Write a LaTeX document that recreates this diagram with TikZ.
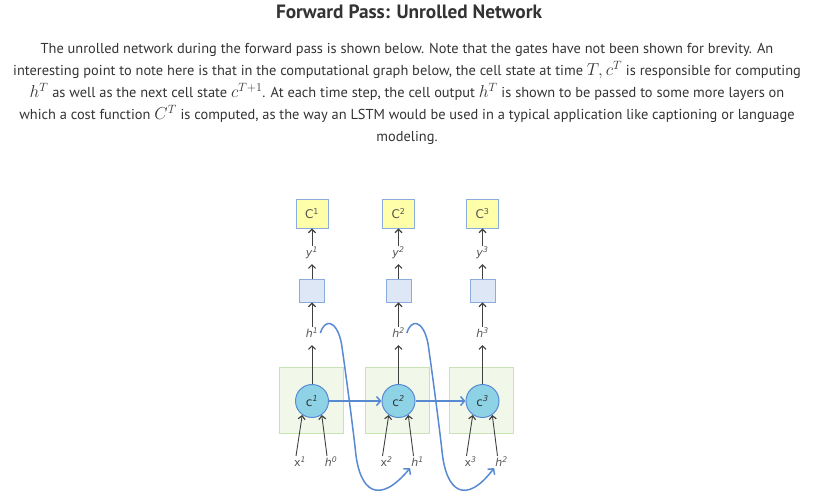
\documentclass[tikz,border=0pt]{standalone}
\usepackage{fontspec}
\setmainfont{PT Sans}
\newfontfamily\diafont{DejaVu Sans}
\usepackage{amsmath}
\usetikzlibrary{positioning,arrows.meta}
\definecolor{costyellow}{RGB}{255,255,170}
\definecolor{layerblue}{RGB}{222,231,246}
\definecolor{edgeblue}{RGB}{140,172,222}
\definecolor{cellgreen}{RGB}{241,248,234}
\definecolor{edgegreen}{RGB}{200,226,180}
\definecolor{statecyan}{RGB}{142,210,230}
\definecolor{flowblue}{RGB}{88,138,210}
\definecolor{textgray}{RGB}{51,51,51}
\definecolor{labelgray}{RGB}{85,85,85}
\newcommand{\mth}[1]{{\fontsize{18}{22}\selectfont$#1$}}

\tikzset{
  cost/.style={draw=edgeblue, line width=0.8pt, fill=costyellow, minimum width=32pt, minimum height=29pt,
               inner sep=0pt, text=labelgray, font=\diafont\fontsize{12}{12}\selectfont},
  layer/.style={draw=edgeblue, line width=0.8pt, fill=layerblue, minimum width=25pt, minimum height=23pt, inner sep=0pt},
  cellbox/.style={draw=edgegreen, line width=0.8pt, fill=cellgreen, minimum width=64pt, minimum height=66pt, inner sep=0pt},
  state/.style={circle, draw=flowblue, line width=1pt, fill=statecyan, minimum size=33pt, inner sep=0pt,
                text=textgray, font=\diafont\fontsize{12}{12}\selectfont},
  lbl/.style={inner sep=1pt, text=labelgray, font=\diafont\fontsize{11}{11}\selectfont},
  up/.style={draw=black!75, line width=0.9pt, -{Straight Barb[length=3.5pt,width=7pt,line width=1.2pt]}},
  flow/.style={draw=flowblue, line width=1.5pt, -{Straight Barb[length=4pt,width=9pt]}}
}

\begin{document}
\begin{tikzpicture}[x=1pt, y=1pt]
  \useasboundingbox (0,0) rectangle (818,-499);

  \node[font=\bfseries\fontsize{19.3}{21}\selectfont, text=textgray] (title) at (409,-12)
    {Forward Pass: Unrolled Network};
  \node[align=center, text=textgray, font=\fontsize{14.4}{22}\selectfont] (intro) at (407,-94) {
    The unrolled network during the forward pass is shown below. Note that the gates have not been shown for brevity. An\\
    interesting point to note here is that in the computational graph below, the cell state at time \mth{T, c^T} is responsible for computing\\
    \mth{h^T} as well as the next cell state \mth{c^{T+1}}. At each time step, the cell output \mth{h^T} is shown to be passed to some more layers on\\
    which a cost function \mth{C^T} is computed, as the way an LSTM would be used in a typical application like captioning or language\\
    modeling.
  };

  % one column per time step
  \foreach \i/\cx/\j in {1/312/0, 2/398.5/1, 3/482.5/2} {
    \node[cellbox] (box\i) at (\cx-1,-400) {};
    \node[state] (c\i) at (\cx,-401) {c\textsuperscript{\itshape\i}};
    \node[lbl] (h\i) at (\cx,-333) {\textit{h}\textsuperscript{\itshape\i}};
    \node[layer] (out\i) at (\cx,-290.5) {};
    \node[lbl] (y\i) at (\cx,-253) {\textit{y}\textsuperscript{\itshape\i}};
    \node[cost] (cost\i) at (\cx,-213.5) {C\textsuperscript{\i}};
    \node[lbl] (x\i) at (\cx-12,-462) {x\textsuperscript{\itshape\i}};
    \node[lbl] (hin\i) at (\cx+19,-462) {\textit{h}\textsuperscript{\itshape\j}};

    \draw[up] (c\i.north) -- (h\i.north |- 0,-345);
    \draw[up] (h\i.north) -- (out\i.south);
    \draw[up] (out\i.north) -- (y\i.north |- 0,-264);
    \draw[up] (y\i.north) -- (cost\i.south);
    \draw[up] ([xshift=-4pt]x\i.north) -- (c\i.235);
    \draw[up] ([xshift=-4pt]hin\i.north) -- (c\i.305);
  }

  \draw[flow] (c1.east) -- (c2.west);
  \draw[flow] (c2.east) -- (c3.west);

  % hidden state carried over to the next step
  \foreach \i/\k in {1/2, 2/3}
    \draw[flow] ([xshift=1pt]h\i.east)
      .. controls ([shift={(5,14)}]h\i.east) and ([shift={(17,14)}]h\i.east) .. ([shift={(22,-10)}]h\i.east)
      .. controls ([shift={(25,-30)}]h\i.east) and ([shift={(33,-90)}]h\i.east) .. ([shift={(36,-117)}]h\i.east)
      .. controls ([shift={(40,-160)}]h\i.east) and ([shift={(60,-172)}]h\i.east) .. (hin\k.south west);
\end{tikzpicture}
\end{document}
